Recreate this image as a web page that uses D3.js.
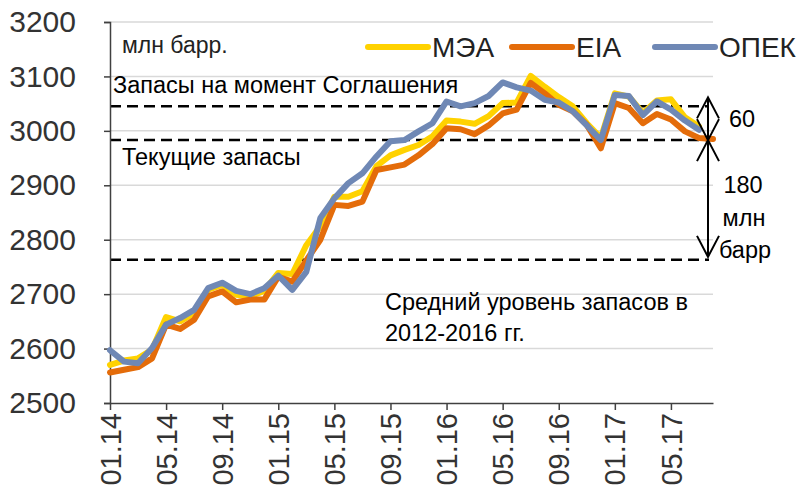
<!DOCTYPE html>
<html><head><meta charset="utf-8">
<script src="https://cdn.jsdelivr.net/npm/d3@7"></script>
<style>body{margin:0;background:#fff}svg{display:block}text{font-family:"Liberation Sans",Arial,sans-serif}</style>
</head><body><svg id="c" width="805" height="497"></svg>
<script>
const categories = ["01.14","02.14","03.14","04.14","05.14","06.14","07.14","08.14","09.14","10.14","11.14","12.14",
"01.15","02.15","03.15","04.15","05.15","06.15","07.15","08.15","09.15","10.15","11.15","12.15",
"01.16","02.16","03.16","04.16","05.16","06.16","07.16","08.16","09.16","10.16","11.16","12.16",
"01.17","02.17","03.17","04.17","05.17","06.17","07.17","08.17"];
const iea = [2570,2578,2582,2598,2658,2650,2665,2708,2717,2699,2696,2706,2739,2737,2790,2825,2879,2879,2889,2935,2955,2965,2974,2990,3019,3017,3013,3027,3051,3052,3101,3081,3062,3045,3014,2987,3069,3063,3033,3056,3058,3025,3008,null];
const eia = [2556,2561,2566,2582,2644,2636,2653,2696,2705,2685,2690,2690,2732,2723,2762,2800,2864,2862,2870,2928,2933,2938,2955,2976,3005,3003,2994,3010,3032,3039,3088,3069,3048,3036,3011,2968,3051,3042,3014,3031,3021,2999,2987,2985];
const opec = [2597,2576,2573,2601,2644,2656,2671,2711,2721,2706,2700,2711,2734,2708,2741,2840,2876,2904,2922,2953,2981,2983,2999,3014,3054,3045,3051,3064,3089,3080,3074,3057,3052,3036,3010,2983,3066,3064,3029,3054,3039,3019,3002,null];
const seriesNames = ["МЭА","EIA","ОПЕК"];
const seriesColors = ["#FFD200","#E46C0A","#6F88B5"];
const yTicks = [2500,2600,2700,2800,2900,3000,3100,3200];
const xTickLabels = ["01.14","05.14","09.14","01.15","05.15","09.15","01.16","05.16","09.16","01.17","05.17"];
const refLevels = [3045, 2983, 2763];
const refLabels = ["Запасы на момент Соглашения","Текущие запасы"];
const avgLabel = ["Средний уровень запасов в","2012-2016 гг."];
const unitLabel = "млн барр.";
const diffLabels = ["60", "180", "млн", "барр"];

const svg = d3.select("#c");
const L=110, R=713, T=22, B=403;
const x = d3.scalePoint().domain(categories).range([L,R]).padding(0);
const y = d3.scaleLinear().domain([2500,3200]).range([B,T]);

// gridlines
svg.append("g").selectAll("line").data(yTicks.slice(1)).join("line")
  .attr("x1",L).attr("x2",R).attr("y1",d=>y(d)).attr("y2",d=>y(d))
  .attr("stroke","#d9d9d9").attr("stroke-width",1.5);

// reference dashed lines
svg.append("g").selectAll("line").data(refLevels).join("line")
  .attr("x1",L).attr("x2",R-4).attr("y1",d=>y(d)).attr("y2",d=>y(d))
  .attr("stroke","#000").attr("stroke-width",2.5).attr("stroke-dasharray","11,6");

// axes
const yAxis = svg.append("g").attr("transform",`translate(${L},0)`)
  .call(d3.axisLeft(y).tickValues(yTicks).tickSize(6).tickPadding(28).tickFormat(d3.format("d")));
yAxis.select(".domain").attr("stroke","#404040").attr("stroke-width",1.5);
yAxis.selectAll(".tick line").attr("stroke","#404040").attr("stroke-width",1.5);
yAxis.selectAll("text").attr("font-size",30).attr("fill","#333").attr("font-family","Liberation Sans, Arial, sans-serif");

const xAxis = svg.append("g").attr("transform",`translate(0,${B})`)
  .call(d3.axisBottom(x).tickValues(xTickLabels).tickSize(7).tickSizeOuter(0));
xAxis.select(".domain").attr("stroke","#404040").attr("stroke-width",1.5);
xAxis.selectAll(".tick line").attr("stroke","#404040").attr("stroke-width",1.5);
xAxis.selectAll("text").attr("font-size",29).attr("fill","#333")
  .attr("font-family","Liberation Sans, Arial, sans-serif")
  .attr("transform","rotate(-90)").attr("text-anchor","end")
  .attr("x",-10).attr("y",0).attr("dy","0.35em");

// lines
const data = [iea, eia, opec];
const line = d3.line().defined(d=>d!=null).x((d,i)=>x(categories[i])).y(d=>y(d));
data.forEach((s,k)=>{
  svg.append("path").datum(s).attr("d",line).attr("fill","none")
    .attr("stroke",seriesColors[k]).attr("stroke-width",6).attr("stroke-linejoin","round").attr("stroke-linecap","round");
});

// legend
const legX = [368, 512, 655];
seriesNames.forEach((n,k)=>{
  svg.append("line").attr("x1",legX[k]).attr("x2",legX[k]+60).attr("y1",47).attr("y2",47)
    .attr("stroke",seriesColors[k]).attr("stroke-width",6).attr("stroke-linecap","round");
  svg.append("text").attr("x",legX[k]+64).attr("y",47).attr("dy","0.35em").attr("font-size",28).attr("fill","#222").text(n);
});

// annotations
svg.append("text").attr("x",122).attr("y",45).attr("dy","0.35em").attr("font-size",23).attr("fill","#222").text(unitLabel);
svg.append("text").attr("x",113).attr("y",85).attr("dy","0.35em").attr("font-size",23.5).attr("fill","#000").text(refLabels[0]);
svg.append("text").attr("x",122).attr("y",157).attr("dy","0.35em").attr("font-size",23.5).attr("fill","#000").text(refLabels[1]);
svg.append("text").attr("x",385).attr("y",302).attr("dy","0.35em").attr("font-size",23.5).attr("fill","#000").text(avgLabel[0]);
svg.append("text").attr("x",385).attr("y",333).attr("dy","0.35em").attr("font-size",23.5).attr("fill","#000").text(avgLabel[1]);

// arrows
const ax = 708;
const yTop = y(refLevels[0]) - 9, yMid = y(refLevels[1]), yBot = y(refLevels[2]) - 3;
const g = svg.append("g").attr("stroke","#000").attr("stroke-width",2).attr("fill","none");
g.append("line").attr("x1",ax).attr("x2",ax).attr("y1",yTop).attr("y2",yBot);
const head = (tipY, dir) => `M${ax-11},${tipY+dir*21}L${ax},${tipY}L${ax+11},${tipY+dir*21}`;
g.append("path").attr("d",head(yTop,1));
g.append("path").attr("d",head(yMid,-1));
g.append("path").attr("d",head(yMid,1));
g.append("path").attr("d",head(yBot,-1));
svg.append("text").attr("x",742).attr("y",119).attr("dy","0.35em").attr("text-anchor","middle").attr("font-size",23.5).text(diffLabels[0]);
svg.append("text").attr("x",743).attr("y",185).attr("dy","0.35em").attr("text-anchor","middle").attr("font-size",23.5).text(diffLabels[1]);
svg.append("text").attr("x",744).attr("y",218).attr("dy","0.35em").attr("text-anchor","middle").attr("font-size",23.5).text(diffLabels[2]);
svg.append("text").attr("x",745).attr("y",250).attr("dy","0.35em").attr("text-anchor","middle").attr("font-size",23.5).text(diffLabels[3]);
</script></body></html>
